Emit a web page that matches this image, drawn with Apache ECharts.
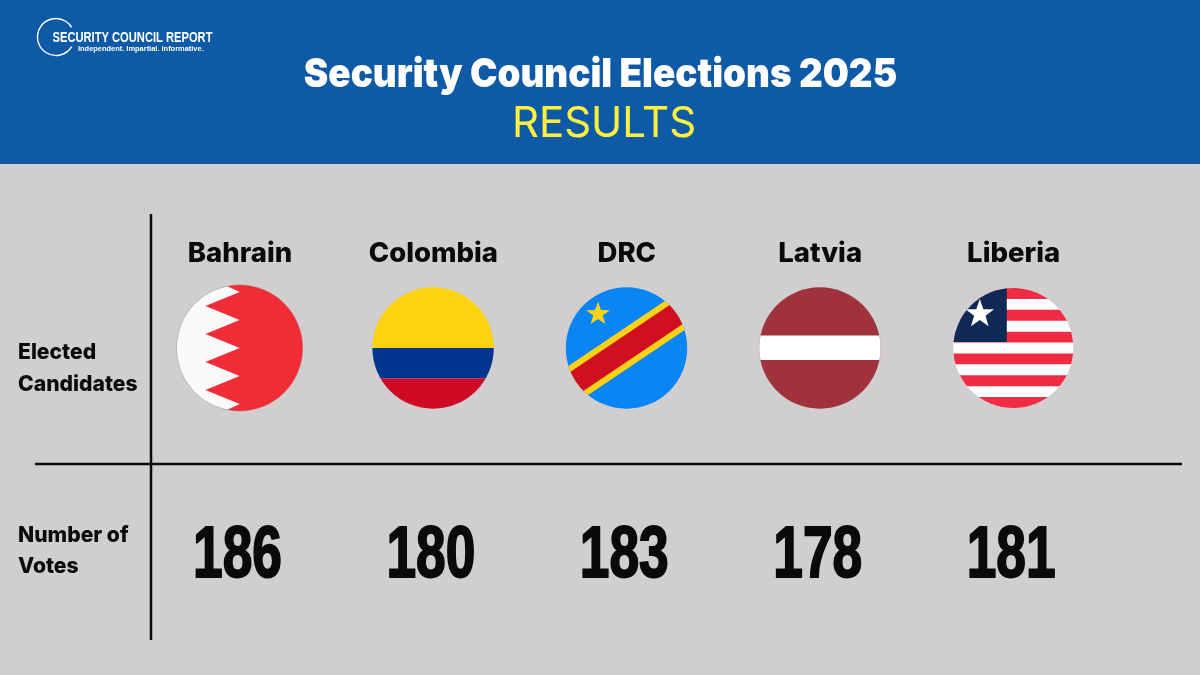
<!DOCTYPE html>
<html><head><meta charset="utf-8">
<style>html,body{margin:0;padding:0;background:#d0cecf}#c{width:1200px;height:675px}</style>
<script src="https://cdn.jsdelivr.net/npm/echarts@6/dist/echarts.min.js"></script>
</head><body><div id="c"></div>
<script>
const countries = ['Bahrain','Colombia','DRC','Latvia','Liberia'];
const votes = [186,180,183,178,181];
const rows = ['Number of Votes','Elected Candidates'];
const title = 'Security Council Elections 2025';
const subtitle = 'RESULTS';

function starPts(r){
  const p=[];
  for(let i=0;i<10;i++){
    const a=-Math.PI/2+i*Math.PI/5, q=i%2?r*0.4:r;
    p.push([q*Math.cos(a),q*Math.sin(a)]);
  }
  return p;
}
function rect(x,y,w,h,fill){return {type:'rect',shape:{x,y,width:w,height:h},style:{fill}};}
function clipped(r,children,extra){
  return [{type:'group',clipPath:{type:'circle',shape:{cx:0,cy:0,r}},children}].concat(extra||[]);
}
const flags = {
  Bahrain(){
    const r=63;
    const z=[[-12.7,-62],[0,-56],[-34.3,-42],[0,-28],[-34.3,-14],[0,0],[-34.3,14],[0,28],[-34.3,42],[0,56],[-12.7,62],[-12.7,70],[70,70],[70,-70],[-12.7,-70]];
    return [
      {type:'circle',shape:{cx:0,cy:0,r:r+0.4},style:{fill:'#a9a7a8'}},
      {type:'circle',shape:{cx:0,cy:0,r:r-0.2},style:{fill:'#fafafa'}}
    ].concat(clipped(r,[{type:'polygon',shape:{points:z},style:{fill:'#f02c36'}}]));
  },
  Colombia(){
    const r=60.7;
    return clipped(r,[rect(-70,-70,140,70,'#fdd20f'),rect(-70,0,140,30.5,'#00358f'),rect(-70,30.5,140,40,'#ce0a24')]);
  },
  DRC(){
    const r=60.7;
    return clipped(r,[
      rect(-70,-70,140,140,'#0a85f5'),
      {type:'group',rotation:34*Math.PI/180,children:[rect(-80,-17.5,160,35,'#fcd116'),rect(-80,-11.5,160,23,'#ce1021')]},
      {type:'polygon',shape:{points:starPts(12.5).map(p=>[p[0]-28.5,p[1]-34])},style:{fill:'#fcd116'}}
    ]);
  },
  Latvia(){
    const r=60.7;
    return clipped(r,[rect(-70,-70,140,140,'#a0323c'),rect(-70,-12.5,140,24.5,'#ffffff')]);
  },
  Liberia(){
    const r=60;
    const kids=[rect(-70,-70,140,140,'#ffffff')], h=120/11;
    for(let i=0;i<11;i+=2) kids.push(rect(-70,-60+i*h,140,h,'#f02c44'));
    kids.push(rect(-70,-70,63.5,64,'#0f2a57'));
    kids.push({type:'polygon',shape:{points:starPts(15).map(p=>[p[0]-33.5,p[1]-34])},style:{fill:'#ffffff'}});
    return clipped(r,kids);
  }
};
function label(x,y,text,size,weight,fill,font,sx,align){
  return {type:'text',x,y,scaleX:sx||1,silent:true,style:{text,fontSize:size,fontWeight:weight,fill,fontFamily:font||'Inter',align:align||'left',verticalAlign:'middle'}};
}
const chart = echarts.init(document.getElementById('c'),null,{renderer:'canvas'});
chart.setOption({
  animation:false,
  backgroundColor:'#d0cecf',
  grid:{left:143.3,width:967,top:244.5,height:414,containLabel:false},
  xAxis:{type:'category',data:countries,position:'top',axisLine:{show:false},axisTick:{show:false},splitLine:{show:false},
    axisLabel:{show:true,margin:-9,color:'#0a0a0a',fontFamily:'Inter',fontWeight:800,fontSize:27.5,verticalAlign:'middle'}},
  yAxis:{type:'category',data:rows,axisLine:{show:false},axisTick:{show:false},axisLabel:{show:false},splitLine:{show:false}},
  series:[
    {type:'custom',name:'Flags',data:countries.map(c=>[c,rows[1]]),
      renderItem(params,api){
        const p=api.coord([api.value(0),api.value(1)]);
        const c=countries[params.dataIndex];
        return {type:'group',x:p[0]-0.3,y:p[1],children:flags[c]()};
      }},
    {type:'custom',name:'Votes',data:countries.map((c,i)=>[c,rows[0],votes[i]]),
      encode:{x:0,y:1},
      renderItem(params,api){
        const p=api.coord([countries[params.dataIndex],rows[0]]);
        return {type:'text',x:p[0]-2.5,y:p[1]+2,scaleX:0.74,style:{text:String(votes[params.dataIndex]),fontFamily:'Liberation Sans',fontWeight:700,fontSize:72,fill:'#0a0a0a',stroke:'#0a0a0a',lineWidth:2,align:'center',verticalAlign:'middle'}};
      }}
  ],
  graphic:[
    {type:'rect',z:-1,shape:{x:0,y:0,width:1200,height:164},style:{fill:'#0f5aa6'}},
    label(600.5,75,title,40,900,'#ffffff','Inter',0.92,'center'),
    label(604,124,subtitle,42,400,'#fdf03f','Inter',1,'center'),
    {type:'arc',shape:{cx:56,cy:37,r:18.5,startAngle:0.55,endAngle:-0.55,clockwise:true},style:{stroke:'#ffffff',lineWidth:1.4,fill:'none'}},
    label(52.5,37.5,'SECURITY COUNCIL REPORT',15.5,700,'#ffffff','Liberation Sans',0.72),
    label(78,48.5,'Independent. Impartial. Informative.',7.6,700,'#ffffff','Liberation Sans',0.98),
    {type:'line',shape:{x1:151,y1:214,x2:151,y2:640},style:{stroke:'#0a0a0a',lineWidth:2.5}},
    {type:'line',shape:{x1:35,y1:464,x2:1182,y2:464},style:{stroke:'#0a0a0a',lineWidth:2.5}},
    label(18,352,'Elected',22,800,'#0a0a0a','Inter',0.96),
    label(18,384,'Candidates',22,800,'#0a0a0a','Inter',0.96),
    label(18,535,'Number of',22,800,'#0a0a0a','Inter',0.96),
    label(18,566,'Votes',22,800,'#0a0a0a','Inter',0.96)
  ]
});
</script></body></html>
